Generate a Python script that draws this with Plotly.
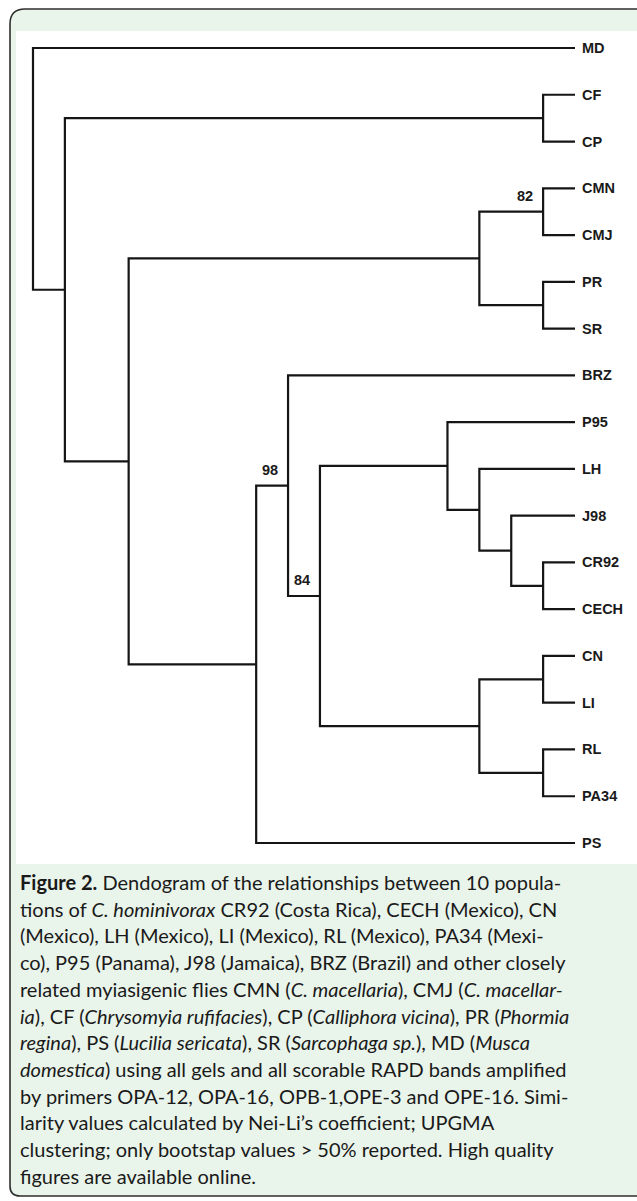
import plotly.graph_objects as go

# ---------------- data ----------------
leaves = ["MD", "CF", "CP", "CMN", "CMJ", "PR", "SR", "BRZ", "P95", "LH",
          "J98", "CR92", "CECH", "CN", "LI", "RL", "PA34", "PS"]

# UPGMA merges: (child A, child B, height) ; node ids n1..n17 in order
merge_a = ["CF", "CMN", "PR", "CR92", "CN", "RL", "J98", "LH", "P95", "n2",
           "n5", "n9", "BRZ", "n13", "n10", "n1", "MD"]
merge_b = ["CP", "CMJ", "SR", "CECH", "LI", "PA34", "n4", "n7", "n8", "n3",
           "n6", "n11", "n12", "PS", "n14", "n15", "n16"]
merge_h = [1, 1, 1, 1, 1, 1, 2, 3, 4, 3, 3, 8, 9, 10, 14, 16, 17]

# bootstrap support (> 50%)
boot_nodes = ["n2", "n13", "n12"]
boot_vals = [82, 98, 84]

caption_lines = [
    "<b>Figure 2.</b> Dendogram of the relationships between 10 popula-",
    "tions of <i>C. hominivorax</i> CR92 (Costa Rica), CECH (Mexico), CN",
    "(Mexico), LH (Mexico), LI (Mexico), RL (Mexico), PA34 (Mexi-",
    "co), P95 (Panama), J98 (Jamaica), BRZ (Brazil) and other closely",
    "related myiasigenic flies CMN (<i>C. macellaria</i>), CMJ (<i>C. macellar-</i>",
    "<i>ia</i>), CF (<i>Chrysomyia rufifacies</i>), CP (<i>Calliphora vicina</i>), PR (<i>Phormia</i>",
    "<i>regina</i>), PS (<i>Lucilia sericata</i>), SR (<i>Sarcophaga sp.</i>), MD (<i>Musca</i>",
    "<i>domestica</i>) using all gels and all scorable RAPD bands amplified",
    "by primers OPA-12, OPA-16, OPB-1,OPE-3 and OPE-16. Simi-",
    "larity values calculated by Nei-Li’s coefficient; UPGMA",
    "clustering; only bootstap values &gt; 50% reported. High quality",
    "figures are available online.",
]

# ---------------- compute tree geometry ----------------
pos = {}   # name -> (height, y)
for i, name in enumerate(leaves):
    pos[name] = (0.0, float(i))

xs, ys = [], []
for k, (a, b, h) in enumerate(zip(merge_a, merge_b, merge_h)):
    ha, ya = pos[a]
    hb, yb = pos[b]
    xs += [ha, h, h, hb, None]
    ys += [ya, ya, yb, yb, None]
    pos["n%d" % (k + 1)] = (h, (ya + yb) / 2.0)

W, H = 637, 1201
LEAF_X, ROOT_X = 575.0, 33.0
TOP_Y, BOT_Y = 48.0, 843.0
unit = (LEAF_X - ROOT_X) / max(merge_h)
step = (BOT_Y - TOP_Y) / (len(leaves) - 1)
x_range = [LEAF_X / unit, -(W - LEAF_X) / unit]
y_range = [(H - TOP_Y) / step, -TOP_Y / step]

LINE_COL = "#151515"
fig = go.Figure()
fig.add_trace(go.Scatter(x=xs, y=ys, mode="lines",
                         line=dict(color=LINE_COL, width=2.2),
                         hoverinfo="skip", showlegend=False))

LBL_FONT = dict(family="Liberation Sans, Arial", size=14.5, color="#1a1a1a")
ann = []
for i, name in enumerate(leaves):
    ann.append(dict(x=0, y=i, xref="x", yref="y", text="<b>%s</b>" % name,
                    showarrow=False, xanchor="left", yanchor="middle",
                    xshift=5, yshift=0, font=LBL_FONT))
for nd, v in zip(boot_nodes, boot_vals):
    h, y = pos[nd]
    ann.append(dict(x=h, y=y, xref="x", yref="y", text="<b>%d</b>" % v,
                    showarrow=False, xanchor="right", yanchor="middle",
                    xshift=-8, yshift=16, font=LBL_FONT))

# caption
CAP_TOP = 882.0
CAP_STEP = 26.7
for j, line in enumerate(caption_lines):
    ann.append(dict(x=18, y=CAP_TOP + j * CAP_STEP, xref="x2", yref="y2", text=line,
                    showarrow=False, xanchor="left", yanchor="middle",
                    font=dict(family="Lato, Noto Sans", size=20, color="#1a1a1a")))

GREEN = "#e9f4ea"
BORDER = "#2e2e2e"
r = 15
x0, y0, x1, y1 = 10, 9, 660, 1196
frame = (f"M {x0},{y0 + r} Q {x0},{y0} {x0 + r},{y0} L {x1},{y0} L {x1},{y1} "
         f"L {x0 + 10},{y1} Q {x0},{y1} {x0},{y1 - 10} Z")
shapes = [
    dict(type="path", path=frame, xref="x2", yref="y2", fillcolor=GREEN,
         line=dict(color=BORDER, width=1.6), layer="below"),
    dict(type="rect", x0=16, y0=31, x1=660, y1=864, xref="x2", yref="y2",
         fillcolor="white", line=dict(width=0), layer="below"),
]

fig.update_layout(
    width=W, height=H, margin=dict(l=0, r=0, t=0, b=0),
    paper_bgcolor="white", plot_bgcolor="rgba(0,0,0,0)",
    xaxis=dict(range=x_range, visible=False, domain=[0, 1], fixedrange=True),
    yaxis=dict(range=y_range, visible=False, domain=[0, 1], fixedrange=True),
    xaxis2=dict(range=[0, W], visible=False, overlaying="x", fixedrange=True),
    yaxis2=dict(range=[H, 0], visible=False, overlaying="y", fixedrange=True),
    annotations=ann, shapes=shapes, showlegend=False, hovermode=False,
)
fig.write_html("out.html", config={"displayModeBar": False, "staticPlot": True},
               post_script="document.body.style.margin='0px';document.body.style.overflow='hidden';")
